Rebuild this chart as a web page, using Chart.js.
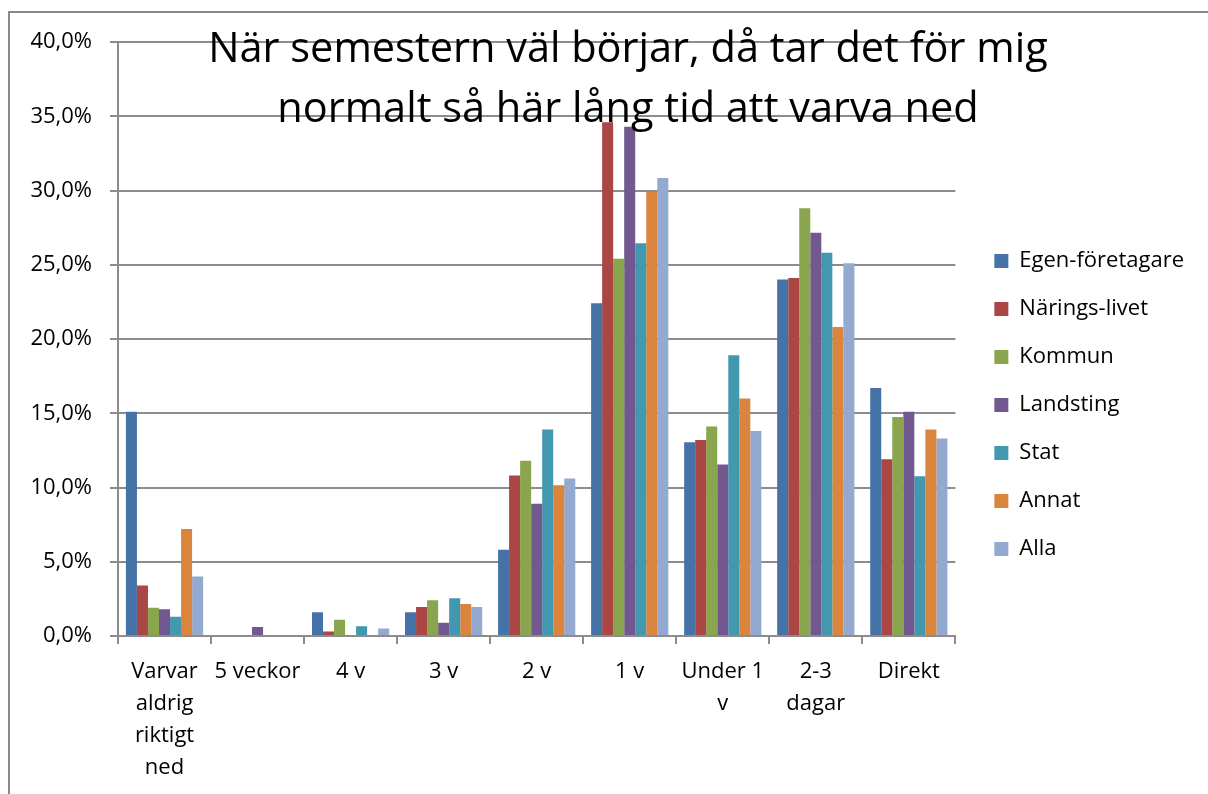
<!DOCTYPE html>
<html>
<head>
<meta charset="utf-8">
<script src="https://cdn.jsdelivr.net/npm/chart.js@4"></script>
<style>
  body { margin: 0; background: #fff; }
  #wrap { position: relative; width: 1208px; height: 794px; overflow: hidden; }
  #frame { position: absolute; left: 8px; top: 11px; width: 1300px; height: 900px; border: 2px solid #8a8a8a; }
  #chart { position: absolute; left: 0; top: 0; }
</style>
</head>
<body>
<div id="wrap">
  <div id="frame"></div>
  <canvas id="chart" width="1208" height="794"></canvas>
</div>
<script>
// Kategorier (x-axeln)
const categories = [
  ['Varvar', 'aldrig', 'riktigt', 'ned'],
  '5 veckor', '4 v', '3 v', '2 v', '1 v',
  ['Under 1', 'v'],
  ['2-3', 'dagar'],
  'Direkt'
];

// Andel i procent per grupp
const egenForetagare = [15.1, 0, 1.6, 1.6, 5.8, 22.4, 13.05, 24.0, 16.7];
const naringsLivet   = [3.4, 0, 0.3, 1.95, 10.8, 34.6, 13.2, 24.1, 11.9];
const kommun         = [1.9, 0, 1.1, 2.4, 11.8, 25.4, 14.1, 28.8, 14.75];
const landsting      = [1.8, 0.6, 0, 0.9, 8.9, 34.3, 11.55, 27.15, 15.1];
const stat           = [1.3, 0, 0.65, 2.55, 13.9, 26.45, 18.9, 25.8, 10.75];
const annat          = [7.2, 0, 0, 2.15, 10.15, 29.9, 16.0, 20.8, 13.9];
const alla           = [4.0, 0, 0.5, 1.95, 10.6, 30.85, 13.8, 25.1, 13.3];

const seriesNames = ['Egen-företagare', 'Närings-livet', 'Kommun', 'Landsting', 'Stat', 'Annat', 'Alla'];
const seriesValues = [egenForetagare, naringsLivet, kommun, landsting, stat, annat, alla];
const seriesColors = ['#4572A7', '#AA4643', '#89A54E', '#71588F', '#4198AF', '#DB843D', '#93A9CF'];

const titleLines = ['När semestern väl börjar, då tar det för mig', 'normalt så här lång tid att varva ned'];

const FONT = '"Open Sans", "Noto Sans", sans-serif';
const gridColor = '#8c8c8c';
const LEGEND_GAP = 13;   // extra luft mellan diagramyta och förklaring
const LEGEND_LIFT = 8;

// titeln ritas ovanpå diagramytan, som i originalet
const titleOverlay = {
  id: 'titleOverlay',
  afterDraw(chart) {
    const ctx = chart.ctx;
    ctx.save();
    ctx.fillStyle = '#000';
    ctx.font = '41.5px ' + FONT;
    ctx.textAlign = 'center';
    ctx.textBaseline = 'alphabetic';
    ctx.fillText(titleLines[0], 628, 62);
    ctx.fillText(titleLines[1], 628, 122);
    ctx.restore();
  }
};

// lite extra avstånd till vänster om förklaringen
const legendGap = {
  id: 'legendGap',
  beforeLayout(chart) {
    const lg = chart.legend;
    if (lg && !lg._gapPatched) {
      const fit = lg.fit;
      lg.fit = function () { fit.call(this); this.width += LEGEND_GAP; };
      lg._gapPatched = true;
    }
  },
  afterLayout(chart) {
    const lg = chart.legend;
    if (!lg) return;
    lg.left += LEGEND_GAP;
    lg.right += LEGEND_GAP;
    lg.top -= LEGEND_LIFT;
    lg.bottom -= LEGEND_LIFT;
  }
};

new Chart(document.getElementById('chart'), {
  type: 'bar',
  data: {
    labels: categories,
    datasets: seriesNames.map((name, i) => ({
      label: name,
      data: seriesValues[i],
      backgroundColor: seriesColors[i],
      categoryPercentage: 0.83,
      barPercentage: 1.0
    }))
  },
  options: {
    responsive: false,
    animation: false,
    layout: { padding: { left: 10, top: 42, right: 14, bottom: 10 } },
    plugins: {
      title: { display: false },
      tooltip: { enabled: false },
      legend: {
        position: 'right',
        labels: {
          boxWidth: 14,
          boxHeight: 14,
          padding: 26,
          color: '#000',
          font: { family: FONT, size: 22 }
        }
      }
    },
    scales: {
      x: {
        afterFit(scale) { scale.height = 148; },
        grid: { offset: true, drawOnChartArea: false, drawTicks: true, tickLength: 8, color: gridColor, lineWidth: 2 },
        border: { color: gridColor, width: 2 },
        ticks: {
          color: '#000',
          padding: 12,
          maxRotation: 0,
          autoSkip: false,
          font: { family: FONT, size: 22, lineHeight: 1.4545 }
        }
      },
      y: {
        min: 0,
        max: 40,
        afterFit(scale) { scale.width = 108; },
        grid: { color: gridColor, lineWidth: 2, tickLength: 8 },
        border: { color: gridColor, width: 2 },
        ticks: {
          stepSize: 5,
          color: '#000',
          padding: 18,
          font: { family: FONT, size: 22 },
          callback: v => v.toFixed(1).replace('.', ',') + '%'
        }
      }
    }
  },
  plugins: [titleOverlay, legendGap]
});
</script>
</body>
</html>
